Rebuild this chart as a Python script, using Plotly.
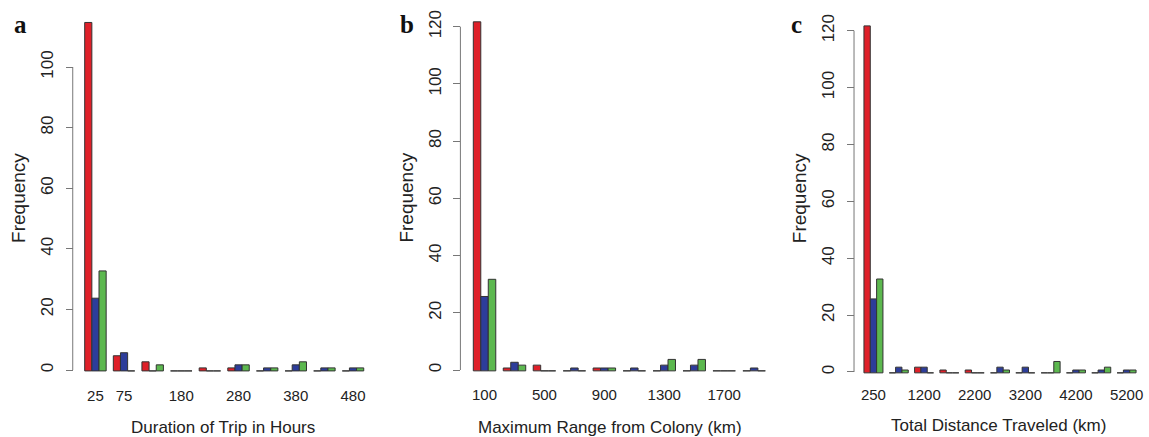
import plotly.graph_objects as go

W, H = 1149, 437

# ---------------- data ----------------
a_groups = list(range(1, 11))
a_red = [115, 5, 3, 0, 1, 1, 0, 0, 0, 0]
a_blue = [24, 6, 0, 0, 0, 2, 1, 2, 1, 1]
a_green = [33, 0, 2, 0, 0, 2, 1, 3, 1, 1]
a_tickpos = [1, 2, 4, 6, 8, 10]
a_ticklabels = ["25", "75", "180", "280", "380", "480"]

b_groups = list(range(1, 11))
b_red = [122, 1, 2, 0, 1, 0, 0, 0, 0, 0]
b_blue = [26, 3, 0, 1, 1, 1, 2, 2, 0, 1]
b_green = [32, 2, 0, 0, 1, 0, 4, 4, 0, 0]
b_tickpos = [1, 3, 5, 7, 9]
b_ticklabels = ["100", "500", "900", "1300", "1700"]

c_groups = list(range(1, 12))
c_red = [122, 0, 2, 1, 1, 0, 0, 0, 0, 0, 0]
c_blue = [26, 2, 2, 0, 0, 2, 2, 0, 1, 1, 1]
c_green = [33, 1, 0, 0, 0, 1, 0, 4, 1, 2, 1]
c_tickpos = [1, 3, 5, 7, 9, 11]
c_ticklabels = ["250", "1200", "2200", "3200", "4200", "5200"]

x_titles = ["Duration of Trip in Hours", "Maximum Range from Colony (km)", "Total Distance Traveled (km)"]
panel_letters = ["a", "b", "c"]
y_tickvals = [[0, 20, 40, 60, 80, 100], [0, 20, 40, 60, 80, 100, 120], [0, 20, 40, 60, 80, 100, 120]]

# ---------------- styling ----------------
RED, BLUE, GREEN = "#DF2029", "#2D3D9A", "#5CB84F"
OUTLINE = "#333333"
AXIS_GRAY = "#777777"
BASE = -0.3
NARROW = "Liberation Sans Narrow, Arial Narrow, Liberation Sans, Arial, sans-serif"

fig = go.Figure()

panels = [
    dict(groups=a_groups, series=(a_red, a_blue, a_green), tp=a_tickpos, tl=a_ticklabels,
         x0px=81.4, x1px=368.6, zero_px=370, ppu=3.03, ytop=118, axis_px=73,
         ylab_x=18, xt_x=224, xt_y=427, let_x=21),
    dict(groups=b_groups, series=(b_red, b_blue, b_green), tp=b_tickpos, tl=b_ticklabels,
         x0px=471.2, x1px=771.8, zero_px=370, ppu=2.861, ytop=126, axis_px=462,
         ylab_x=407, xt_x=612, xt_y=427, let_x=408),
    dict(groups=c_groups, series=(c_red, c_blue, c_green), tp=c_tickpos, tl=c_ticklabels,
         x0px=863.8, x1px=1143.2, zero_px=372, ppu=2.844, ytop=126, axis_px=857,
         ylab_x=802, xt_x=1002, xt_y=425, let_x=799),
]

layout_axes = {}
shapes = []
annotations = []
ybottom = -1.5

for i, p in enumerate(panels):
    n = i + 1
    xa = "x" if n == 1 else f"x{n}"
    ya = "y" if n == 1 else f"y{n}"
    for vals, col in zip(p["series"], (RED, BLUE, GREEN)):
        fig.add_trace(go.Bar(
            x=p["groups"], y=vals, base=BASE, xaxis=xa, yaxis=ya,
            marker=dict(color=col, line=dict(color=OUTLINE, width=1)),
            showlegend=False,
        ))
    nmax = len(p["groups"])
    xdom = [p["x0px"] / W, p["x1px"] / W]
    bottom_px = p["zero_px"] + (-ybottom) * p["ppu"]
    top_px = p["zero_px"] - p["ytop"] * p["ppu"]
    ydom = [(H - bottom_px) / H, (H - top_px) / H]
    xkey = "xaxis" if n == 1 else f"xaxis{n}"
    ykey = "yaxis" if n == 1 else f"yaxis{n}"
    layout_axes[xkey] = dict(
        domain=xdom, range=[0.5, nmax + 0.5], anchor=ya,
        tickmode="array", tickvals=p["tp"], ticktext=p["tl"],
        ticks="", showline=False, showgrid=False, zeroline=False,
        tickfont=dict(family=NARROW, size=15, color="#222"),
        ticklabelstandoff=max(0, int(394 - bottom_px - 9)),
        ticklabeloverflow="allow",
    )
    layout_axes[ykey] = dict(
        domain=ydom, range=[ybottom, p["ytop"]], anchor="free", position=p["axis_px"] / W,
        tickmode="array", tickvals=y_tickvals[i], ticktext=[str(v) for v in y_tickvals[i]],
        ticks="outside", ticklen=7, tickcolor=AXIS_GRAY, tickwidth=1,
        showline=False, showgrid=False, zeroline=False, tickangle=-90,
        tickfont=dict(family="Liberation Sans, Arial, sans-serif", size=17, color="#222"),
        ticklabelstandoff=6,
    )
    shapes.append(dict(type="line", xref="paper", yref=ya,
                       x0=p["axis_px"] / W, x1=p["axis_px"] / W, y0=0, y1=y_tickvals[i][-1],
                       line=dict(color=AXIS_GRAY, width=1)))
    annotations.append(dict(text="Frequency", xref="paper", yref="paper",
                            x=p["ylab_x"] / W, y=(H - 198) / H, textangle=-90,
                            showarrow=False, xanchor="center", yanchor="middle",
                            font=dict(family="Liberation Sans, Arial, sans-serif", size=19, color="#222")))
    annotations.append(dict(text=x_titles[i], xref="paper", yref="paper",
                            x=p["xt_x"] / W, y=(H - p["xt_y"]) / H,
                            showarrow=False, xanchor="center", yanchor="middle",
                            font=dict(family=NARROW, size=17, color="#222")))
    annotations.append(dict(text="<b>%s</b>" % panel_letters[i], xref="paper", yref="paper",
                            x=p["let_x"] / W, y=(H - 40) / H,
                            showarrow=False, xanchor="center", yanchor="bottom",
                            font=dict(family="Liberation Serif, Times New Roman, serif", size=25, color="#111")))

fig.update_layout(
    width=W, height=H, margin=dict(l=0, r=0, t=0, b=0),
    paper_bgcolor="white", plot_bgcolor="white",
    barmode="group", bargap=0.25, bargroupgap=0,
    shapes=shapes, annotations=annotations,
    **layout_axes,
)

fig.write_html("out.html")
